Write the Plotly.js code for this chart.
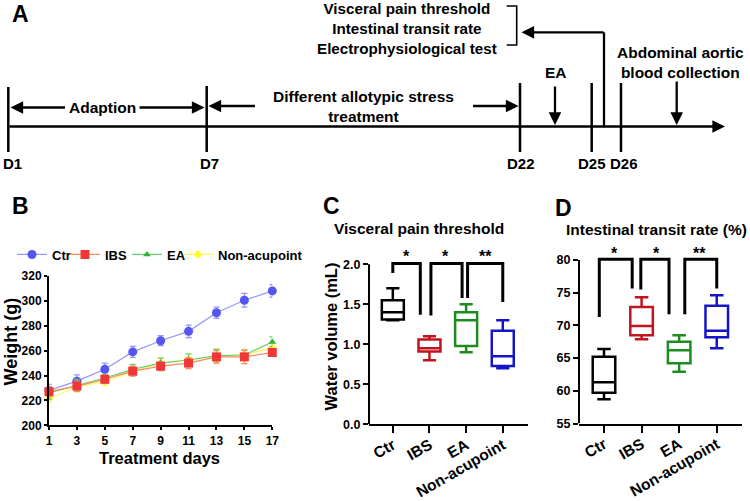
<!DOCTYPE html>
<html><head><meta charset="utf-8">
<script src="https://cdn.plot.ly/plotly-3.0.1.min.js"></script>
<style>html,body{margin:0;padding:0;background:#fff}#chart{width:750px;height:501px}</style>
</head><body><div id="chart"></div>
<script>
// ---------- Panel A (timeline) ----------
const timelineDays = ['D1', 'D7', 'D22', 'D25', 'D26'];
const measureTexts = ['Visceral pain threshold', 'Intestinal transit rate', 'Electrophysiological test'];
const phaseAdaption = 'Adaption';
const phaseStress = ['Different allotypic stress', 'treatment'];
const eventEA = 'EA';
const eventBlood = ['Abdominal aortic', 'blood collection'];

// ---------- Panel B (body weight) ----------
const days = [1, 3, 5, 7, 9, 11, 13, 15, 17];
const weightCtr = [228, 235.5, 245, 259, 268, 275.5, 290.5, 300.5, 308];
const errCtr = [5, 5, 5, 4.5, 4, 5, 4.5, 5.5, 5];
const weightIBS = [227, 231.5, 237, 243.5, 247.5, 250, 255, 255, 258.5];
const errIBS = [4, 4, 3, 4, 3.5, 4.5, 5, 5.5, 3];
const weightEA = [226, 232, 238, 245, 250, 252.5, 256, 256.5, 267];
const errEA = [5, 5, 3, 4, 4, 5, 5, 4, 4];
const weightNon = [221.5, 231, 235, 243, 250, 253, 255.5, 257, 262];
const errNon = [3, 3, 3, 3, 4, 4, 6, 4, 4];

// ---------- Panels C & D (box plots) ----------
const groups = ['Ctr', 'IBS', 'EA', 'Non-acupoint'];
const painMin = [1.30, 0.80, 0.90, 0.70];
const painQ1 = [1.31, 0.91, 0.98, 0.73];
const painMed = [1.40, 0.95, 1.30, 0.85];
const painQ3 = [1.55, 1.06, 1.40, 1.17];
const painMax = [1.70, 1.10, 1.50, 1.30];
const transitMin = [58.7, 67.9, 62.9, 66.5];
const transitQ1 = [59.7, 68.5, 64.2, 68.2];
const transitMed = [61.3, 69.9, 66.2, 69.2];
const transitQ3 = [65.2, 72.8, 67.5, 73.0];
const transitMax = [66.4, 74.3, 68.5, 74.6];
const sigLabels = ['*', '*', '**'];

// ---------- styles / layout helpers ----------
const F = 'Liberation Sans, Arial, Helvetica, sans-serif';
const W = 750, H = 501;
const X = p => p / W, Y = p => 1 - p / H;
const boxColors = ['#000000', '#c0141e', '#1e8c1e', '#1515c8'];
const shapes = [], annotations = [];

function pline(x0, y0, x1, y1, w) {
  shapes.push({type: 'line', xref: 'paper', yref: 'paper', x0: X(x0), y0: Y(y0), x1: X(x1), y1: Y(y1),
    line: {color: '#000', width: w || 2.5}});
}
function arrow(tx, ty, sx, sy) {
  annotations.push({xref: 'paper', yref: 'paper', x: X(tx), y: Y(ty), ax: sx - tx, ay: sy - ty,
    axref: 'pixel', ayref: 'pixel', text: '', showarrow: true, arrowhead: 2, arrowsize: 1.1,
    arrowwidth: 2.3, arrowcolor: '#000', standoff: 0, startstandoff: 0});
}
function txt(x, y, t, size, opts) {
  annotations.push(Object.assign({xref: 'paper', yref: 'paper', x: X(x), y: Y(y), text: t, showarrow: false,
    font: {family: F, size: size, color: '#000', weight: 700}, xanchor: 'center', yanchor: 'middle', align: 'center'}, opts || {}));
}

// ---- Panel A drawing ----
txt(10, 14, 'A', 23, {xanchor: 'left'});
const dayLineX = [8.3, 206.7, 520, 591.7, 621];
const dayLineTop = [87, 86, 83, 83, 83];
const dayLabelX = [12.5, 209, 521, 591.7, 624];
arrow(725, 126.5, 8, 126.5);
dayLineX.forEach((x, i) => {
  pline(x, dayLineTop[i], x, 152, 2.5);
  txt(dayLabelX[i], 163.5, timelineDays[i], 15);
});
txt(102, 107.5, phaseAdaption, 15.5);
arrow(10.5, 107.5, 66.5, 107.5);
arrow(204.5, 107.5, 138, 107.5);
txt(363, 106.5, phaseStress.join('<br>'), 15.5);
arrow(208.5, 106, 256.5, 106);
arrow(518.5, 106, 471.5, 106);
txt(556, 73, eventEA, 15.5);
arrow(555, 125, 555, 85);
txt(680.5, 62.5, eventBlood.join('<br>'), 15.5);
arrow(676.7, 125, 676.7, 80);
txt(406.5, 28, measureTexts.join('<br>'), 15.2);
shapes.push({type: 'path', xref: 'paper', yref: 'paper',
  path: `M${X(506.7)},${Y(6)} L${X(516.7)},${Y(6)} L${X(516.7)},${Y(45)} L${X(506.7)},${Y(45)}`,
  line: {color: '#000', width: 1.6}});
pline(604, 126.5, 604, 32.3, 2.3);
arrow(521.5, 32.3, 605, 32.3);

// ---- panel letters and titles ----
txt(10, 206, 'B', 23, {xanchor: 'left'});
txt(321, 206, 'C', 23, {xanchor: 'left'});
txt(553, 208, 'D', 23, {xanchor: 'left'});
txt(419, 228.5, 'Visceral pain threshold', 15.5);
txt(656.5, 230, 'Intestinal transit rate (%)', 15.5);
txt(159, 458, 'Treatment days', 16.5);
txt(10, 341.5, 'Weight (g)', 18, {textangle: -90});
txt(330, 336.5, 'Water volume (mL)', 16.5, {textangle: -90});

// ---- significance brackets (C, D) ----
const bracketsC = [[0, 0.75], [1.04, 1.89], [2.04, 3.0]];
const legsC = [[1.89, 1.37], [1.36, 1.58], [1.58, 1.53]];
const bracketTopC = 2.01;
const starsC = [[0.36, 2.10], [1.44, 2.10], [2.53, 2.10]];
const bracketsD = [[-0.125, 0.75], [0.98, 1.73], [2.15, 3.0]];
const legsD = [[71.3, 75.66], [75.5, 71.7], [71.7, 75.66]];
const bracketTopD = 80.1;
const starsD = [[0.29, 81.05], [1.40, 81.05], [2.55, 81.05]];
function brackets(list, legs, top, xr, yr) {
  list.forEach((b, i) => {
    shapes.push({type: 'path', xref: xr, yref: yr,
      path: `M${b[0]},${legs[i][0]} L${b[0]},${top} L${b[1]},${top} L${b[1]},${legs[i][1]}`,
      line: {color: '#000', width: 3}});
  });
}
brackets(bracketsC, legsC, bracketTopC, 'x2', 'y2');
brackets(bracketsD, legsD, bracketTopD, 'x3', 'y3');
starsC.forEach((s, i) => annotations.push({xref: 'x2', yref: 'y2', x: s[0], y: s[1], text: sigLabels[i], showarrow: false,
  font: {family: F, size: 16, color: '#000', weight: 700}}));
starsD.forEach((s, i) => annotations.push({xref: 'x3', yref: 'y3', x: s[0], y: s[1], text: sigLabels[i], showarrow: false,
  font: {family: F, size: 16, color: '#000', weight: 700}}));
// manual y axis lines for C and D (range extended above for brackets and stars)
shapes.push({type: 'line', xref: 'x2 domain', yref: 'y2', x0: 0, x1: 0, y0: 0, y1: 2.0, line: {color: '#000', width: 2}});
shapes.push({type: 'line', xref: 'x3 domain', yref: 'y3', x0: 0, x1: 0, y0: 55, y1: 80, line: {color: '#000', width: 2}});

// ---------- traces ----------
function weightTrace(name, y, err, lineC, markC, sym, size, legend) {
  return {type: 'scatter', mode: 'lines+markers', name: name, x: days, y: y, xaxis: 'x', yaxis: 'y',
    error_y: {type: 'data', array: err, visible: true, color: lineC, thickness: 1.2, width: 3},
    line: {color: lineC, width: 1.2}, marker: {symbol: sym, size: size, color: markC},
    cliponaxis: false, legend: legend, showlegend: true, hoverinfo: 'skip'};
}
const traces = [
  weightTrace('Ctr', weightCtr, errCtr, 'rgb(150,150,250)', 'rgb(85,85,240)', 'circle', 9, 'legend'),
  weightTrace('Non-acupoint', weightNon, errNon, 'rgb(250,245,90)', 'rgb(255,250,40)', 'diamond', 7, 'legend4'),
  weightTrace('EA', weightEA, errEA, 'rgb(110,205,110)', 'rgb(50,180,50)', 'triangle-up', 7, 'legend3'),
  weightTrace('IBS', weightIBS, errIBS, 'rgb(245,140,90)', 'rgb(240,55,55)', 'square', 9, 'legend2'),
];
function boxTraces(mins, q1, med, q3, maxs, xa, ya) {
  return groups.map((g, i) => ({type: 'box', name: g, x: [i], q1: [q1[i]], median: [med[i]], q3: [q3[i]],
    lowerfence: [mins[i]], upperfence: [maxs[i]], width: 0.6, whiskerwidth: 0.6, boxpoints: false,
    fillcolor: 'rgba(255,255,255,0)', line: {color: boxColors[i], width: 2.5},
    xaxis: xa, yaxis: ya, showlegend: false, hoverinfo: 'skip'}));
}
traces.push(...boxTraces(painMin, painQ1, painMed, painQ3, painMax, 'x2', 'y2'));
traces.push(...boxTraces(transitMin, transitQ1, transitMed, transitQ3, transitMax, 'x3', 'y3'));

// ---------- axes ----------
const tickFontS = {family: F, size: 12, color: '#000', weight: 700};
const tickFontM = {family: F, size: 12.5, color: '#000', weight: 700};
const tickFontCat = {family: F, size: 15.5, color: '#000', weight: 700};
const common = {showgrid: false, zeroline: false, linecolor: '#000', linewidth: 2, ticks: 'outside',
  tickcolor: '#000', tickwidth: 2, fixedrange: true};
function legendAt(xpx) {
  return {x: X(xpx), y: Y(254.5), xanchor: 'left', yanchor: 'middle', orientation: 'h',
    bgcolor: 'rgba(0,0,0,0)', font: {family: F, size: 13, color: '#000', weight: 700}};
}
const layout = {
  width: W, height: H, margin: {l: 0, r: 0, t: 0, b: 0}, paper_bgcolor: '#fff', plot_bgcolor: 'rgba(0,0,0,0)',
  showlegend: true, boxmode: 'overlay',
  font: {family: F, color: '#000'},
  xaxis: Object.assign({}, common, {domain: [X(49), X(272.3)], range: [1, 17], tickvals: days, ticklen: 3,
    showline: true, tickfont: tickFontS, anchor: 'y'}),
  yaxis: Object.assign({}, common, {domain: [Y(425.3), Y(276)], range: [200, 320], dtick: 20, ticklen: 3,
    showline: true, tickfont: tickFontS, anchor: 'x'}),
  xaxis2: Object.assign({}, common, {domain: [X(369), X(527.7)], range: [-0.65, 3.68], tickvals: [0, 1, 2, 3],
    ticktext: groups, tickangle: -30, ticklen: 7, showline: true, tickfont: tickFontCat, anchor: 'y2',
    ticklabelstandoff: -3}),
  yaxis2: Object.assign({}, common, {domain: [Y(424.3), Y(244.3)], range: [0, 2.25], tickvals: [0, 0.5, 1, 1.5, 2],
    tickformat: '.1f', ticklen: 5, showline: false, tickfont: tickFontM, anchor: 'x2'}),
  xaxis3: Object.assign({}, common, {domain: [X(579), X(742.3)], range: [-0.665, 3.68], tickvals: [0, 1, 2, 3],
    ticktext: groups, tickangle: -30, ticklen: 7, showline: true, tickfont: tickFontCat, anchor: 'y3',
    ticklabelstandoff: -3}),
  yaxis3: Object.assign({}, common, {domain: [Y(423.5), Y(243.65)], range: [55, 82.5], tickvals: [55, 60, 65, 70, 75, 80],
    ticklen: 5, showline: false, tickfont: tickFontM, anchor: 'x3'}),
  legend: legendAt(12), legend2: legendAt(65), legend3: legendAt(127), legend4: legendAt(178),
  shapes: shapes, annotations: annotations
};
Plotly.newPlot('chart', traces, layout, {staticPlot: true, displayModeBar: false});
</script></body></html>
